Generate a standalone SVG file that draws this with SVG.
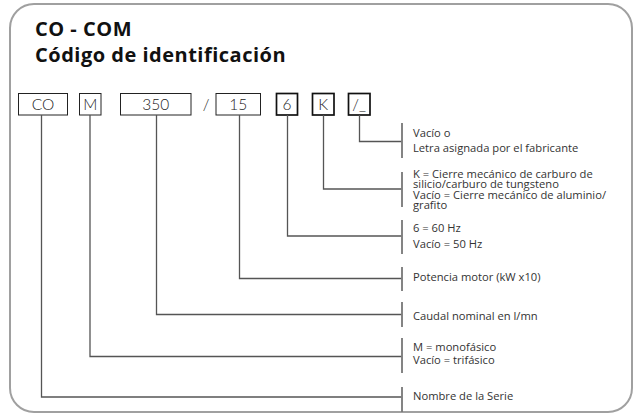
<svg xmlns="http://www.w3.org/2000/svg" width="637" height="416" viewBox="0 0 637 416">
<style>
.frame{fill:#fff;stroke:#a0a0a0;stroke-width:2}
.title{font-family:"Open Sans",Lato,sans-serif;font-weight:700;font-size:20px;letter-spacing:0.5px;fill:#111}
.box{fill:#fff;stroke:#222;stroke-width:1}
.boxb{fill:#fff;stroke:#111;stroke-width:1.7}
.bl{font-family:Lato,"Liberation Sans",sans-serif;font-weight:300;font-size:15.5px;fill:#222;text-anchor:middle}
.ln{fill:none;stroke:#555;stroke-width:1.3}
.tk{stroke:#777;stroke-width:1.8}
.d{font-family:"Open Sans","Liberation Sans",sans-serif;font-size:11.2px;fill:#333}
</style>
<rect class="frame" x="10" y="4" width="622" height="408" rx="24" ry="24"/>
<text class="title" x="35" y="36">CO - COM</text>
<text class="title" x="35" y="61.7">Código de identificación</text>
<g id="n-co"><rect class="box" x="18.5" y="93.5" width="49" height="21.5"/><text class="bl" x="43" y="110">CO</text></g>
<g id="n-m"><rect class="box" x="79.5" y="93.5" width="21.5" height="21.5"/><text class="bl" x="90.2" y="110">M</text></g>
<g id="n-350"><rect class="box" x="120.5" y="93.5" width="70.5" height="21.5"/><text class="bl" x="155.7" y="110">350</text></g>
<text class="bl" x="206" y="110">/</text>
<g id="n-15"><rect class="box" x="216" y="93.5" width="44.5" height="21.5"/><text class="bl" x="238.2" y="110">15</text></g>
<g id="n-6"><rect class="boxb" x="276.5" y="93.5" width="21" height="21.5"/><text class="bl" x="287" y="110">6</text></g>
<g id="n-k"><rect class="boxb" x="312.5" y="93.5" width="21.5" height="21.5"/><text class="bl" x="323.2" y="110">K</text></g>
<g id="n-sl"><rect class="boxb" x="348.5" y="93.5" width="21.5" height="21.5"/><text class="bl" x="359.2" y="110">/_</text></g>
<g id="connectors">
<path class="ln" d="M359.5 115V141.5H401.5"/>
<line class="tk" x1="402" y1="123" x2="402" y2="158"/>
<path class="ln" d="M323.5 115V189H401.5"/>
<line class="tk" x1="402" y1="172" x2="402" y2="207"/>
<path class="ln" d="M287.5 115V236H401.5"/>
<line class="tk" x1="402" y1="220" x2="402" y2="254"/>
<path class="ln" d="M239.5 115V278.5H401.5"/>
<line class="tk" x1="402" y1="267" x2="402" y2="291"/>
<path class="ln" d="M156.5 115V314.5H401.5"/>
<line class="tk" x1="402" y1="302" x2="402" y2="327"/>
<path class="ln" d="M90 115V356.5H401.5"/>
<line class="tk" x1="402" y1="338" x2="402" y2="373"/>
<path class="ln" d="M41.5 115V397H401.5"/>
<line class="tk" x1="402" y1="387" x2="402" y2="412"/>
</g>
<g id="labels">
<text class="d" x="413" y="137">Vacío o</text>
<text class="d" x="413" y="152">Letra asignada por el fabricante</text>
<text class="d" x="413" y="177.5">K = Cierre mecánico de carburo de</text>
<text class="d" x="413" y="188">silicio/carburo de tungsteno</text>
<text class="d" x="413" y="198.5">Vacío = Cierre mecánico  de aluminio/</text>
<text class="d" x="413" y="209">grafito</text>
<text class="d" x="413" y="232">6 = 60 Hz</text>
<text class="d" x="413" y="247.5">Vacío = 50 Hz</text>
<text class="d" x="413" y="280.5">Potencia motor (kW x10)</text>
<text class="d" x="413" y="320">Caudal nominal  en l/mn</text>
<text class="d" x="413" y="351">M = monofásico</text>
<text class="d" x="413" y="363.5">Vacío = trifásico</text>
<text class="d" x="413" y="400">Nombre de la Serie</text>
</g>
</svg>
